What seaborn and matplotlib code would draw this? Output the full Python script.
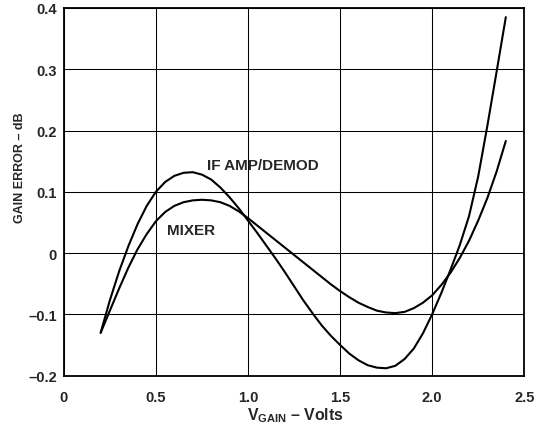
import seaborn as sns
import matplotlib.pyplot as plt
from matplotlib import font_manager
import pandas as pd

# values
if_x = [0.2, 0.25, 0.3, 0.35, 0.4, 0.45, 0.5, 0.55, 0.6, 0.65, 0.7, 0.75, 0.8, 0.85, 0.9, 0.95,
        1.0, 1.05, 1.1, 1.15, 1.2, 1.25, 1.3, 1.35, 1.4, 1.45, 1.5, 1.55, 1.6, 1.65, 1.7, 1.75,
        1.8, 1.85, 1.9, 1.95, 2.0, 2.05, 2.1, 2.15, 2.2, 2.25, 2.3, 2.35, 2.4]
if_y = [-0.13, -0.077, -0.030, 0.011, 0.047, 0.077, 0.100, 0.116, 0.126, 0.131, 0.132, 0.128, 0.12,
        0.107, 0.091, 0.073, 0.053, 0.033, 0.012, -0.009, -0.031, -0.054, -0.077, -0.098, -0.118,
        -0.135, -0.150, -0.164, -0.175, -0.183, -0.187, -0.188, -0.184, -0.173, -0.156, -0.131,
        -0.100, -0.065, -0.027, 0.013, 0.060, 0.125, 0.208, 0.296, 0.385]

mix_x = [0.2, 0.25, 0.3, 0.35, 0.4, 0.45, 0.5, 0.55, 0.6, 0.65, 0.7, 0.75, 0.8, 0.85, 0.9, 0.95,
         1.0, 1.05, 1.1, 1.15, 1.2, 1.25, 1.3, 1.35, 1.4, 1.45, 1.5, 1.55, 1.6, 1.65, 1.7, 1.75,
         1.8, 1.85, 1.9, 1.95, 2.0, 2.05, 2.1, 2.15, 2.2, 2.25, 2.3, 2.35, 2.4]
mix_y = [-0.13, -0.094, -0.058, -0.024, 0.006, 0.031, 0.052, 0.067, 0.077, 0.083, 0.086, 0.087,
         0.086, 0.083, 0.077, 0.068, 0.057, 0.045, 0.033, 0.021, 0.009, -0.003, -0.015, -0.027,
         -0.039, -0.051, -0.062, -0.072, -0.081, -0.088, -0.094, -0.097, -0.098, -0.096, -0.090,
         -0.081, -0.069, -0.052, -0.032, -0.008, 0.020, 0.053, 0.090, 0.133, 0.183]

xticks = [0, 0.5, 1.0, 1.5, 2.0, 2.5]
xtick_labels = ["0", "0.5", "1.0", "1.5", "2.0", "2.5"]
yticks = [-0.2, -0.1, 0, 0.1, 0.2, 0.3, 0.4]
ytick_labels = ["\u20130.2", "\u20130.1", "0", "0.1", "0.2", "0.3", "0.4"]

sns.set_style("white")
plt.rcParams['font.family'] = ['Liberation Sans', 'DejaVu Sans']
plt.rcParams['font.weight'] = 'bold'
plt.rcParams['mathtext.fontset'] = 'custom'
plt.rcParams['mathtext.rm'] = 'Liberation Sans'
plt.rcParams['mathtext.bf'] = 'Liberation Sans:bold'

# y label in the original is a condensed face
installed = {f.name for f in font_manager.fontManager.ttflist}
if 'Liberation Sans Narrow' in installed:
    ylab_font, ylab_size = 'Liberation Sans Narrow', 10
else:
    ylab_font, ylab_size = 'Liberation Sans', 9

df_if = pd.DataFrame({'v': if_x, 'err': if_y})
df_mix = pd.DataFrame({'v': mix_x, 'err': mix_y})

fig = plt.figure(figsize=(5.41, 4.27), dpi=100)
ax = fig.add_axes([0.118, 0.118, 0.851, 0.861])

sns.lineplot(data=df_if, x='v', y='err', color='black', linewidth=1.5, ax=ax)
sns.lineplot(data=df_mix, x='v', y='err', color='black', linewidth=1.5, ax=ax)

ax.set_xlim(0, 2.5)
ax.set_ylim(-0.2, 0.4)
ax.set_xticks(xticks)
ax.set_xticklabels(xtick_labels)
ax.set_yticks(yticks)
ax.set_yticklabels(ytick_labels)
ax.tick_params(length=0, labelsize=10.5)
ax.tick_params(axis='x', pad=10)
ax.tick_params(axis='y', pad=5)
ax.grid(True, color='black', linewidth=0.75)

for s in ax.spines.values():
    s.set_color('black')
    s.set_linewidth(1.3)

ax.text(0.78, 0.144, "IF AMP/DEMOD", fontsize=11, fontweight='bold', va='center')
ax.text(0.56, 0.038, "MIXER", fontsize=11, fontweight='bold', va='center')

ax.set_xlabel(r"$\mathbf{V_{GAIN}}$" + " \u2013 Volts", fontsize=11.4, fontweight='bold')
ax.xaxis.set_label_coords(0.503, -0.08)
ax.set_ylabel("GAIN ERROR \u2013 dB", fontsize=ylab_size, fontweight='bold', family=ylab_font)
ax.yaxis.set_label_coords(-0.083, 0.568)

fig.savefig('out.png', dpi=100)
